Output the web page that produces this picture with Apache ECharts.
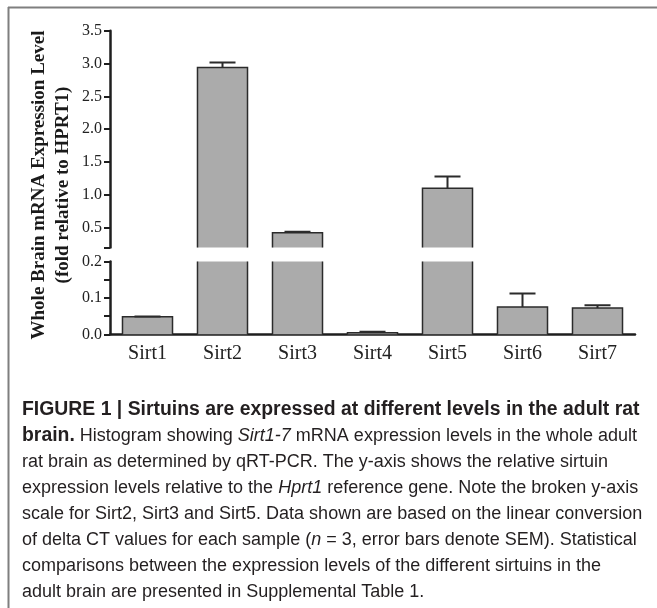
<!DOCTYPE html>
<html><head><meta charset="utf-8">
<script src="https://cdn.jsdelivr.net/npm/echarts@6/dist/echarts.min.js"></script>
<style>html,body{margin:0;padding:0;background:#fff}#c{width:657px;height:608px}</style>
</head><body><div id="c"></div>
<script>
const categories = ['Sirt1','Sirt2','Sirt3','Sirt4','Sirt5','Sirt6','Sirt7'];
const meanValues = [0.048, 2.94, 0.424, 0.004, 1.10, 0.075, 0.072];
const semValues  = [0.001, 0.075, 0.015, 0.003, 0.18, 0.037, 0.008];
const upperTickLabels = [0.5, 1.0, 1.5, 2.0, 2.5, 3.0, 3.5];
const upperTickMarks = [0.2, 0.5, 1.0, 1.5, 2.0, 2.5, 3.0, 3.5];
const yTitleLines = ['Whole Brain mRNA Expression Level', '(fold relative to HPRT1)'];
const captionLines = [
  '{b|FIGURE 1 | Sirtuins are expressed at different levels in the adult rat}',
  '{b|brain.} Histogram showing {i|Sirt1-7} mRNA expression levels in the whole adult',
  'rat brain as determined by qRT-PCR. The y-axis shows the relative sirtuin',
  'expression levels relative to the {i|Hprt1} reference gene. Note the broken y-axis',
  'scale for Sirt2, Sirt3 and Sirt5. Data shown are based on the linear conversion',
  'of delta CT values for each sample ({i|n} = 3, error bars denote SEM). Statistical',
  'comparisons between the expression levels of the different sirtuins in the',
  'adult brain are presented in Supplemental Table 1.'
];

const SERIF = '"Liberation Serif", "Times New Roman", serif';
const SANS = '"Liberation Sans", Arial, sans-serif';
const AX = '#1e1e1e';
const BAR_FILL = '#ababab';
const BAR_EDGE = '#2b2b2b';
const BAR_FRAC = 0.667;

const seriesData = categories.map((c, i) => [i, meanValues[i], semValues[i]]);

// bar drawn through the axis scale, clipped to its own grid, with no edge at the clip line
function renderBar(params, api) {
  const cs = params.coordSys;
  const i = api.value(0), v = api.value(1);
  const w = api.size([1, 0])[0] * BAR_FRAC;
  const top = api.coord([i, v]);
  const base = api.coord([i, 0]);
  const yTop = Math.max(top[1], cs.y);
  const yBot = Math.min(base[1], cs.y + cs.height);
  if (yTop >= yBot) return null;
  const x0 = top[0] - w / 2, x1 = top[0] + w / 2;
  const topVisible = top[1] >= cs.y - 0.01;
  const edge = { stroke: BAR_EDGE, lineWidth: 1.5, fill: null };
  const children = [
    { type: 'rect', shape: { x: x0, y: yTop, width: w, height: yBot - yTop }, style: { fill: BAR_FILL } }
  ];
  if (topVisible) {
    children.push({ type: 'polyline', shape: { points: [[x0, yBot], [x0, yTop], [x1, yTop], [x1, yBot]] }, style: edge });
  } else {
    children.push({ type: 'line', shape: { x1: x0, y1: yBot, x2: x0, y2: yTop }, style: edge });
    children.push({ type: 'line', shape: { x1: x1, y1: yBot, x2: x1, y2: yTop }, style: edge });
  }
  return { type: 'group', children };
}

function renderErr(params, api) {
  const x = api.value(0), y = api.value(1), e = api.value(2);
  const p0 = api.coord([x, y]);
  const p1 = api.coord([x, y + e]);
  const half = 13;
  return {
    type: 'group',
    children: [
      { type: 'line', shape: { x1: p0[0], y1: p0[1], x2: p1[0], y2: p1[1] }, style: { stroke: BAR_EDGE, lineWidth: 2 } },
      { type: 'line', shape: { x1: p1[0] - half, y1: p1[1], x2: p1[0] + half, y2: p1[1] }, style: { stroke: BAR_EDGE, lineWidth: 2 } }
    ]
  };
}

const graphics = [
  { type: 'line', shape: { x1: 8, y1: 7.5, x2: 657, y2: 7.5 }, style: { stroke: '#7f7f7f', lineWidth: 2 } },
  { type: 'line', shape: { x1: 8.5, y1: 7, x2: 8.5, y2: 608 }, style: { stroke: '#7f7f7f', lineWidth: 2 } }
];
yTitleLines.forEach((t, i) => {
  graphics.push({
    type: 'text', x: 39 + i * 24, y: 185, rotation: Math.PI / 2,
    style: { text: t, font: 'bold 19px ' + SERIF, fill: '#1a1a1a', align: 'center', verticalAlign: 'middle' }
  });
});
captionLines.forEach((t, i) => {
  graphics.push({
    type: 'text', x: 22, y: 410 + i * 26,
    style: {
      text: t, fontFamily: SANS, fontSize: 18, fill: '#231f20', align: 'left', verticalAlign: 'middle',
      rich: {
        b: { fontFamily: SANS, fontSize: 19.4, fontWeight: 'bold', fill: '#231f20' },
        i: { fontFamily: SANS, fontSize: 18, fontStyle: 'italic', fill: '#231f20' }
      }
    }
  });
});

const option = {
  animation: false,
  backgroundColor: '#ffffff',
  grid: [
    { left: 110, right: 22, top: 30.7, height: 216.7 },
    { left: 110, right: 22, top: 261.5, height: 72.8 }
  ],
  xAxis: [
    { type: 'category', gridIndex: 0, data: categories, show: false },
    {
      type: 'category', gridIndex: 1, data: categories,
      axisLine: { lineStyle: { color: AX, width: 2.5 } },
      axisTick: { alignWithLabel: true, length: 5, lineStyle: { color: AX, width: 2 } },
      axisLabel: { fontFamily: SERIF, fontSize: 20, color: '#222', margin: 9 }
    }
  ],
  yAxis: [
    {
      type: 'value', gridIndex: 0, min: 0.2, max: 3.5,
      axisLine: { show: true, lineStyle: { color: AX, width: 2.5 } },
      axisTick: { show: true, length: 6, customValues: upperTickMarks, lineStyle: { color: AX, width: 2 } },
      axisLabel: { customValues: upperTickLabels, fontFamily: SERIF, fontSize: 16, color: '#222', margin: 8, formatter: v => v.toFixed(1) },
      splitLine: { show: false }
    },
    {
      type: 'value', gridIndex: 1, min: 0, max: 0.2, interval: 0.1,
      axisLine: { show: true, lineStyle: { color: AX, width: 2.5 } },
      axisTick: { show: true, length: 6, lineStyle: { color: AX, width: 2 } },
      minorTick: { show: true, splitNumber: 2, length: 6, lineStyle: { color: AX, width: 2 } },
      axisLabel: { fontFamily: SERIF, fontSize: 16, color: '#222', margin: 8, formatter: v => v.toFixed(1) },
      splitLine: { show: false }
    }
  ],
  series: [
    { type: 'custom', xAxisIndex: 0, yAxisIndex: 0, data: seriesData, renderItem: renderBar, z: 2 },
    { type: 'custom', xAxisIndex: 1, yAxisIndex: 1, data: seriesData, renderItem: renderBar, z: 2 },
    { type: 'custom', xAxisIndex: 0, yAxisIndex: 0, data: seriesData, renderItem: renderErr, clip: true, z: 3 },
    { type: 'custom', xAxisIndex: 1, yAxisIndex: 1, data: seriesData, renderItem: renderErr, clip: true, z: 3 }
  ],
  graphic: graphics
};
const chart = echarts.init(document.getElementById('c'), null, { renderer: 'canvas' });
chart.setOption(option);
</script>
</body></html>
